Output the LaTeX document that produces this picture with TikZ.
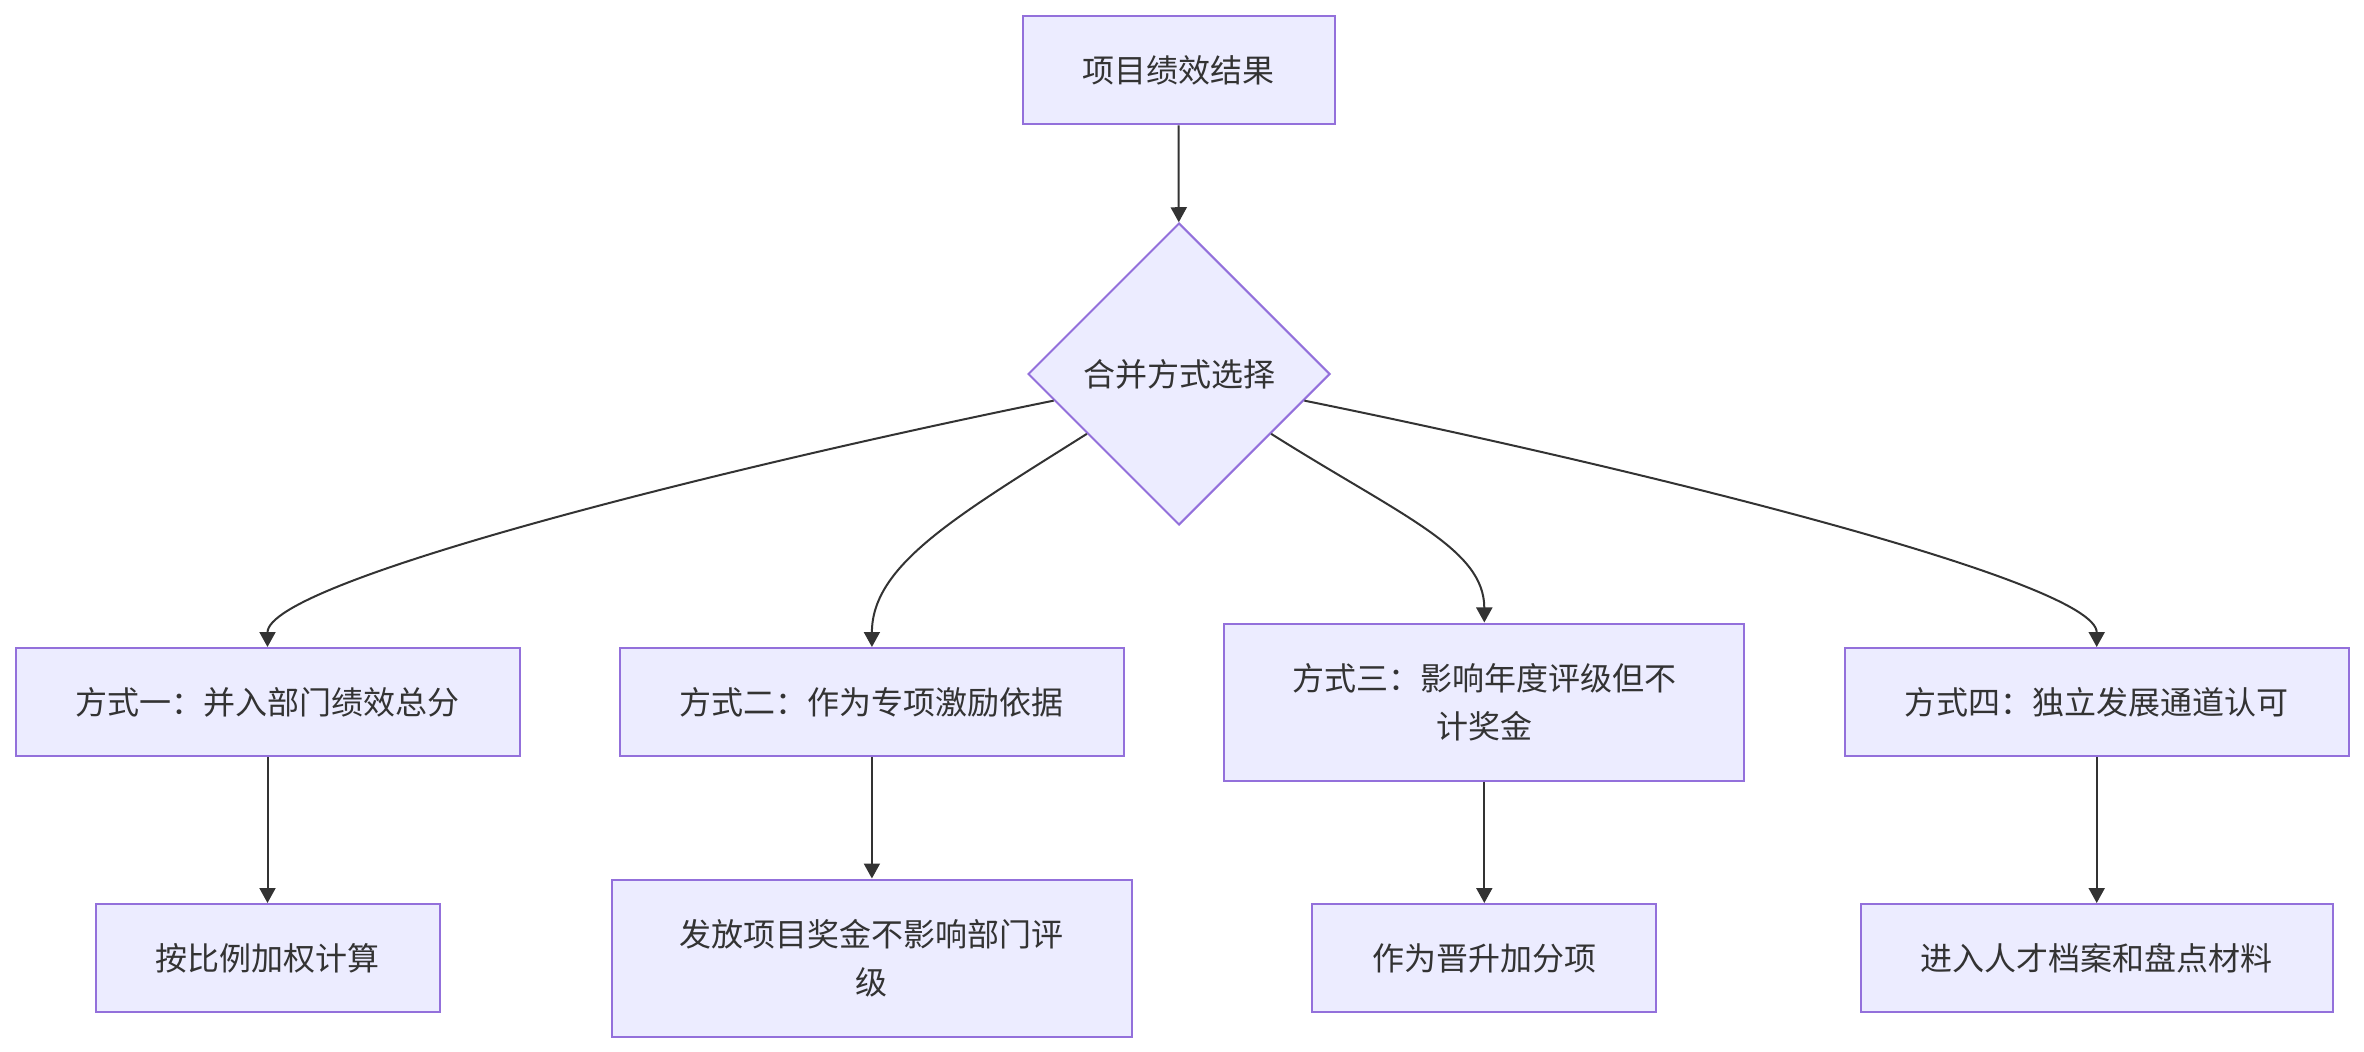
\documentclass[tikz,border=0pt]{standalone}
\usepackage{fontspec}
\setmainfont{Noto Sans CJK SC}
\usetikzlibrary{arrows.meta,positioning,shapes.geometric}
\definecolor{mmfill}{HTML}{ECECFF}
\definecolor{mmline}{HTML}{9370DB}
\definecolor{mmedge}{HTML}{333333}

\begin{document}
\begin{tikzpicture}[
  x=0.5pt, y=-0.5pt,
  node distance=49.2pt and 49.2pt,
  box/.style={draw=mmline,fill=mmfill,line width=1pt,align=center,
              inner xsep=30pt,minimum height=54pt,text=mmedge,
              font=\fontsize{16pt}{24pt}\selectfont},
  tallbox/.style={box,text width=200pt,minimum height=78.5pt},
  choice/.style={diamond,draw=mmline,fill=mmfill,line width=1pt,aspect=1,
              inner sep=0pt,minimum width=151pt,minimum height=151pt,text=mmedge,
              font=\fontsize{16pt}{24pt}\selectfont},
  arr/.style={-{Triangle[length=7.5pt,width=8pt]},line width=1pt,mmedge}
]
  \useasboundingbox (0,0) rectangle (2364,1052);
  \node[box] (result) at (1178.5,70.5) {项目绩效结果};
  \node[choice] (merge) at (1179,374) {合并方式选择};
  % four ways
  \node[box] (way1) at (267.5,702) {方式一：并入部门绩效总分};
  \node[box,right=of way1] (way2) {方式二：作为专项激励依据};
  \node[tallbox,right=of way2] (way3) {方式三：影响年度评级但不\\计奖金};
  \node[box,right=of way3] (way4) {方式四：独立发展通道认可};
  % outcomes
  \node[box] (calc) at ([yshift=-128pt]way1.center) {按比例加权计算};
  \node[tallbox] (bonus) at ([yshift=-128pt]way2.center) {发放项目奖金不影响部门评\\级};
  \node[box] (promo) at ([yshift=-128pt]way3.center) {作为晋升加分项};
  \node[box] (talent) at ([yshift=-128pt]way4.center) {进入人才档案和盘点材料};

  \draw[arr] (result) -- (merge);
  \draw[arr] (merge.192) .. controls +(-325,66) and +(0,-66) .. (way1.north);
  \draw[arr] (merge.213) .. controls +(-130,82) and +(0,-82) .. (way2.north);
  \draw[arr] (merge.327) .. controls +(130,82) and +(0,-74) .. (way3.north);
  \draw[arr] (merge.348) .. controls +(325,66) and +(0,-66) .. (way4.north);
  \draw[arr] (way1) -- (calc);
  \draw[arr] (way2) -- (bonus);
  \draw[arr] (way3) -- (promo);
  \draw[arr] (way4) -- (talent);
\end{tikzpicture}
\end{document}
